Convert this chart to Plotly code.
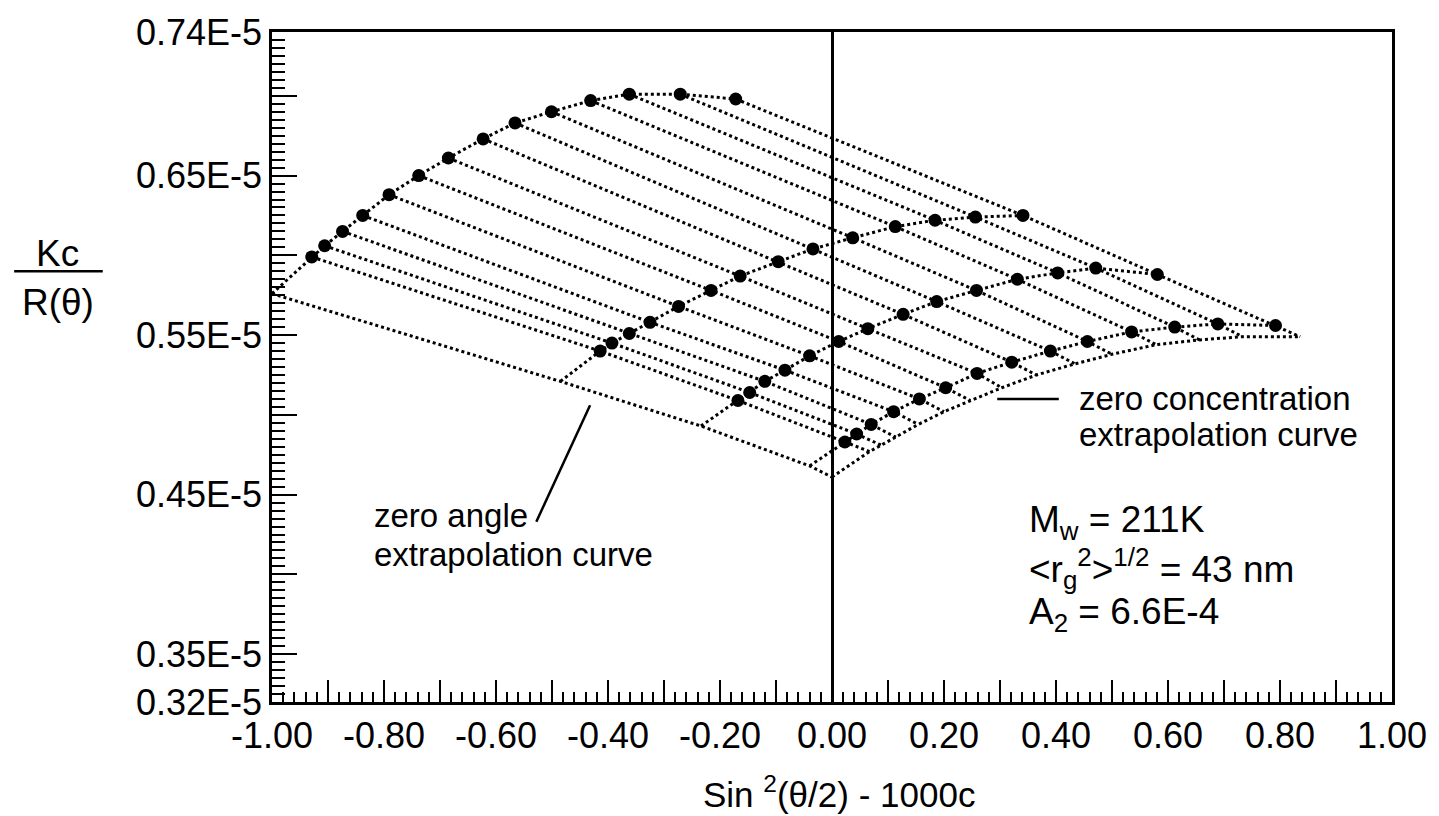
import plotly.graph_objects as go

# ---- data (Kc/R in units of 1E-5, x = sin^2(theta/2) - 1000c) ----
# constant-concentration rows (highest c first), 14 angles each
top_x = [-0.929, -0.906, -0.874, -0.838, -0.791, -0.738, -0.685, -0.623, -0.566, -0.501, -0.431, -0.362, -0.271, -0.172]
top_y = [0.599, 0.606, 0.615, 0.625, 0.638, 0.650, 0.661, 0.673, 0.683, 0.690, 0.697, 0.701, 0.701, 0.698]
a_x = [-0.414, -0.393, -0.362, -0.325, -0.274, -0.216, -0.164, -0.096, -0.034, 0.037, 0.113, 0.184, 0.256, 0.341]
a_y = [0.540, 0.545, 0.551, 0.558, 0.568, 0.578, 0.587, 0.596, 0.604, 0.611, 0.618, 0.622, 0.624, 0.625]
b_x = [-0.168, -0.147, -0.120, -0.084, -0.040, 0.012, 0.064, 0.127, 0.187, 0.258, 0.331, 0.403, 0.471, 0.581]
b_y = [0.509, 0.514, 0.521, 0.528, 0.537, 0.546, 0.554, 0.563, 0.571, 0.578, 0.585, 0.589, 0.592, 0.588]
l_x = [0.023, 0.044, 0.070, 0.110, 0.156, 0.203, 0.259, 0.321, 0.390, 0.456, 0.535, 0.612, 0.689, 0.792]
l_y = [0.483, 0.488, 0.494, 0.502, 0.510, 0.517, 0.526, 0.533, 0.540, 0.546, 0.552, 0.555, 0.557, 0.556]

# zero-angle extrapolated points of each row, and the double intercept
za_x = [-1.0, -0.485, -0.234, -0.040]
za_y = [0.576, 0.521, 0.493, 0.468]
icpt_x = [0.0]
icpt_y = [0.461]

# zero-concentration extrapolated points for each angle
zc_x = [0.067, 0.088, 0.114, 0.154, 0.200, 0.247, 0.303, 0.365, 0.434, 0.500, 0.579, 0.656, 0.733, 0.836]
zc_y = [0.477, 0.481, 0.486, 0.494, 0.502, 0.509, 0.517, 0.525, 0.532, 0.538, 0.544, 0.547, 0.549, 0.549]

# axis ticks
x_labeled = [-1.0, -0.8, -0.6, -0.4, -0.2, 0.0, 0.2, 0.4, 0.6, 0.8, 1.0]
x_text = ["-1.00", "-0.80", "-0.60", "-0.40", "-0.20", "0.00", "0.20", "0.40", "0.60", "0.80", "1.00"]
x_long_unlabeled = [-0.9, -0.7, -0.5, -0.3, -0.1, 0.1, 0.3, 0.5, 0.7, 0.9]
y_labeled = [0.32, 0.35, 0.45, 0.55, 0.65, 0.74]
y_text = ["0.32E-5", "0.35E-5", "0.45E-5", "0.55E-5", "0.65E-5", "0.74E-5"]
y_long_unlabeled = [0.40, 0.50, 0.60, 0.70]

FONT = "Liberation Sans, Arial, Helvetica, sans-serif"
DOT = "3px,3px"
LW = 3

rows_x = [top_x, a_x, b_x, l_x]
rows_y = [top_y, a_y, b_y, l_y]

fig = go.Figure()

# constant-angle lines (through each concentration, extended to c = 0)
ax_, ay_ = [], []
for i in range(len(top_x)):
    ax_ += [r[i] for r in rows_x] + [zc_x[i], None]
    ay_ += [r[i] for r in rows_y] + [zc_y[i], None]
fig.add_trace(go.Scatter(x=ax_, y=ay_, mode="lines", connectgaps=False,
                         line=dict(color="black", width=LW, dash=DOT), hoverinfo="skip"))

# constant-concentration lines (extended to zero angle)
cx_, cy_ = [], []
for k in range(len(rows_x)):
    cx_ += [za_x[k]] + rows_x[k] + [None]
    cy_ += [za_y[k]] + rows_y[k] + [None]
fig.add_trace(go.Scatter(x=cx_, y=cy_, mode="lines", connectgaps=False,
                         line=dict(color="black", width=LW, dash=DOT), hoverinfo="skip"))

# zero-angle extrapolation curve
fig.add_trace(go.Scatter(x=za_x + icpt_x, y=za_y + icpt_y, mode="lines",
                         line=dict(color="black", width=LW, dash=DOT), hoverinfo="skip"))
# zero-concentration extrapolation curve
fig.add_trace(go.Scatter(x=icpt_x + zc_x, y=icpt_y + zc_y, mode="lines",
                         line=dict(color="black", width=LW, dash=DOT), hoverinfo="skip"))

# measured points
px_, py_ = [], []
for k in range(len(rows_x)):
    px_ += rows_x[k]
    py_ += rows_y[k]
fig.add_trace(go.Scatter(x=px_, y=py_, mode="markers",
                         marker=dict(color="black", size=13, line=dict(width=0))))

# invisible trace on overlay axes (carries the long unlabeled ticks)
fig.add_trace(go.Scatter(x=[0.0], y=[0.5], xaxis="x2", yaxis="y2", mode="markers",
                         marker=dict(opacity=0), hoverinfo="skip", showlegend=False))

# leader lines
fig.add_shape(type="line", xref="x", yref="y", x0=0.295, y0=0.510, x1=0.405, y1=0.510,
              line=dict(color="black", width=2.5))
fig.add_shape(type="line", xref="x", yref="y", x0=-0.432, y0=0.506, x1=-0.528, y1=0.433,
              line=dict(color="black", width=2.5))

# y-axis title as a fraction
W, H = 1439, 816
L, R, T, B = 272, 42, 27, 114
pw, ph = W - L - R, H - T - B


def px2paper_x(p):
    return (p - L) / pw


def px2paper_y(p):
    return (H - B - p) / ph


fig.add_shape(type="line", xref="paper", yref="paper",
              x0=px2paper_x(13), x1=px2paper_x(102), y0=px2paper_y(268), y1=px2paper_y(268),
              line=dict(color="black", width=2.5))
fig.add_annotation(xref="paper", yref="paper", x=px2paper_x(57), y=px2paper_y(250),
                   text="Kc", showarrow=False, font=dict(size=37, color="black", family=FONT),
                   xanchor="center", yanchor="middle")
fig.add_annotation(xref="paper", yref="paper", x=px2paper_x(57), y=px2paper_y(300),
                   text="R(θ)", showarrow=False, font=dict(size=37, color="black", family=FONT),
                   xanchor="center", yanchor="middle")
# x-axis title
fig.add_annotation(xref="paper", yref="paper", x=px2paper_x(842), y=px2paper_y(793),
                   text="Sin <sup>2</sup>(θ/2) - 1000c", showarrow=False,
                   font=dict(size=35, color="black", family=FONT),
                   xanchor="center", yanchor="middle")


# text labels inside plot
def txt(x, y, s, size):
    fig.add_annotation(xref="x", yref="y", x=x, y=y, text=s, showarrow=False,
                       font=dict(size=size, color="black", family=FONT),
                       xanchor="left", yanchor="middle", align="left")


txt(0.437, 0.5104, "zero concentration", 33)
txt(0.437, 0.4880, "extrapolation curve", 33)
txt(-0.821, 0.4370, "zero angle", 33)
txt(-0.821, 0.4127, "extrapolation curve", 33)
txt(0.348, 0.4326, "M<sub>w</sub> = 211K", 37)
txt(0.348, 0.4040, "&lt;r<sub>g</sub><sup>2</sup>&gt;<sup>1/2</sup> = 43 nm", 37)
txt(0.348, 0.3753, "A<sub>2</sub> = 6.6E-4", 37)

TICKFONT = dict(size=36, color="black", family=FONT)
fig.update_layout(
    xaxis=dict(range=[-1.0, 1.0], showline=True, linecolor="black", linewidth=2.5,
               mirror=True, ticks="inside", ticklen=22, tickwidth=2, tickcolor="black",
               tickmode="array", tickvals=x_labeled, ticktext=x_text, tickfont=TICKFONT,
               minor=dict(ticks="inside", dtick=0.02, tick0=-1.0, ticklen=10,
                          tickwidth=2, tickcolor="black", showgrid=False),
               showgrid=False, zeroline=True, zerolinecolor="black", zerolinewidth=2.5),
    yaxis=dict(range=[0.32, 0.74], showline=True, linecolor="black", linewidth=2.5,
               mirror=True, ticks="inside", ticklen=25, tickwidth=2, tickcolor="black",
               tickmode="array", tickvals=y_labeled, ticktext=y_text, tickfont=TICKFONT,
               minor=dict(ticks="inside", dtick=0.005, tick0=0.32, ticklen=13,
                          tickwidth=2, tickcolor="black", showgrid=False),
               showgrid=False, zeroline=False),
    xaxis2=dict(overlaying="x", anchor="y", side="bottom", range=[-1.0, 1.0],
                ticks="inside", ticklen=22, tickwidth=2, tickcolor="black",
                tickmode="array", tickvals=x_long_unlabeled, showticklabels=False,
                showline=False, showgrid=False, zeroline=False),
    yaxis2=dict(overlaying="y", anchor="x", side="left", range=[0.32, 0.74],
                ticks="inside", ticklen=25, tickwidth=2, tickcolor="black",
                tickmode="array", tickvals=y_long_unlabeled, showticklabels=False,
                showline=False, showgrid=False, zeroline=False),
    width=W, height=H, margin=dict(l=L, r=R, t=T, b=B),
    paper_bgcolor="white", plot_bgcolor="white", showlegend=False,
    font=dict(family=FONT, color="black"))

fig.write_html("out.html")
